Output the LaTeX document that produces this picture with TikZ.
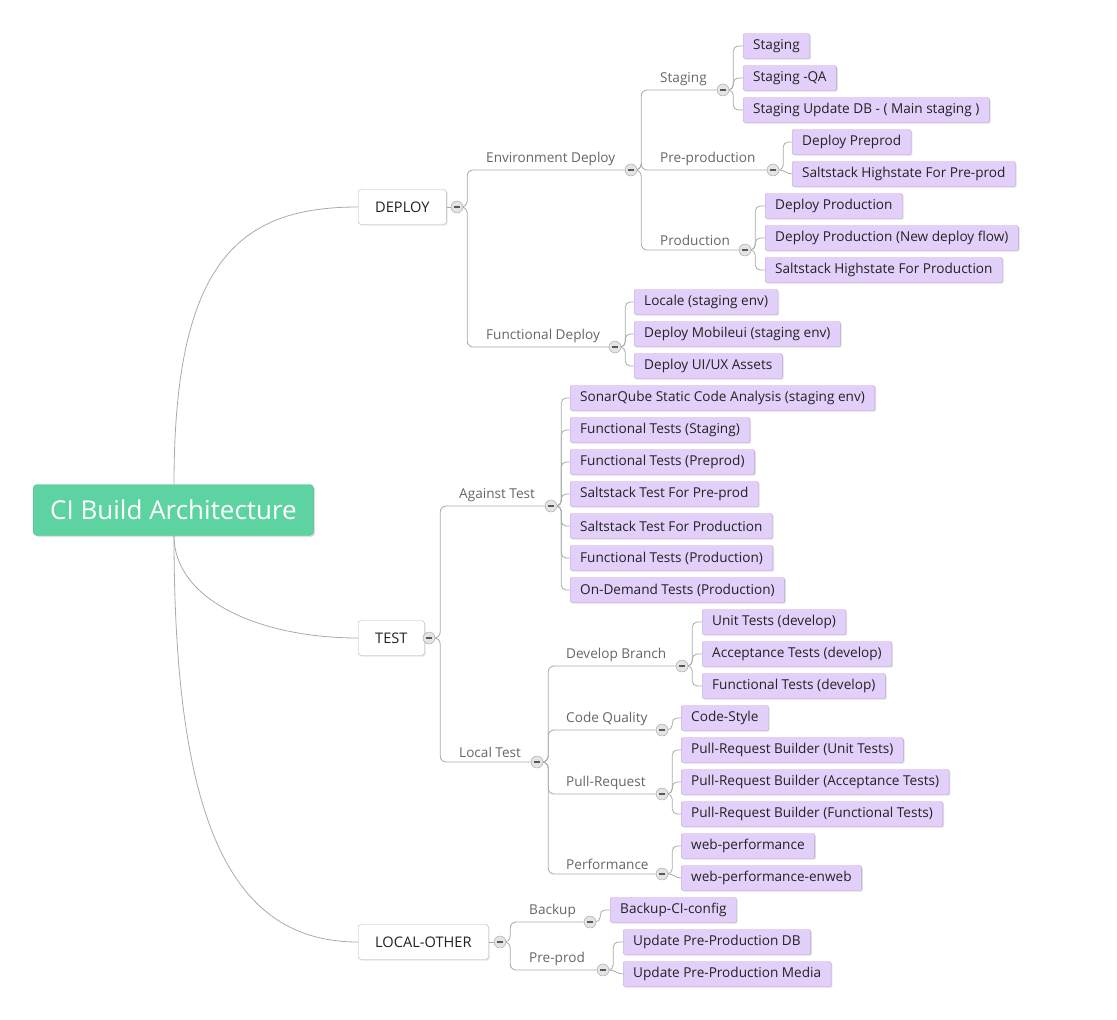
\documentclass[tikz,border=0pt]{standalone}
\usepackage{fontspec}
\setmainfont{Open Sans}
\usetikzlibrary{shadows,backgrounds,calc}
\definecolor{leaffill}{HTML}{E3D0FA}
\definecolor{leafdraw}{HTML}{B9A6D3}
\definecolor{rootfill}{HTML}{5DD3A2}
\definecolor{lineg}{HTML}{AAAAAA}
\definecolor{labelg}{HTML}{666666}
\definecolor{txt}{HTML}{222222}
\definecolor{mainborder}{HTML}{B5B5B5}
\definecolor{circfill}{HTML}{E4E4E4}
\definecolor{circdraw}{HTML}{A0A0A0}
\tikzset{
  conn/.style={draw=lineg, line width=0.8pt, rounded corners=6pt},
  rootconn/.style={draw=lineg, line width=0.8pt},
  leaf/.style={draw=leafdraw, fill=leaffill, rounded corners=2pt, minimum height=25pt,
    inner xsep=10pt, inner ysep=0pt, anchor=west, font=\fontsize{13.6}{16}\selectfont, text=txt,
    drop shadow={shadow xshift=1.2pt, shadow yshift=-1.2pt, opacity=0.25}},
  mainbox/.style={draw=mainborder, fill=white, rounded corners=3pt, minimum height=35pt,
    inner xsep=17pt, inner ysep=0pt, anchor=west, font=\fontsize{14.6}{17}\selectfont, text=txt,
    drop shadow={shadow xshift=1.2pt, shadow yshift=-1.2pt, opacity=0.2}},
  rootbox/.style={draw=rootfill!90!black, fill=rootfill, rounded corners=4pt, minimum height=51pt,
    inner xsep=17pt, inner ysep=0pt, anchor=west, font=\fontsize{26}{30}\selectfont, text=white,
    drop shadow={shadow xshift=1.5pt, shadow yshift=-1.5pt, opacity=0.25}},
  lbl/.style={anchor=south west, inner sep=0pt, font=\fontsize{13.6}{16}\selectfont, text=labelg},
  coll/.style={circle, draw=circdraw, fill=circfill, minimum size=12pt, inner sep=0pt,
    path picture={\draw[line width=1.4pt, color=black!65]
      ([xshift=-2.6pt]path picture bounding box.center) -- ([xshift=2.6pt]path picture bounding box.center);}},
}
\begin{document}
\begin{tikzpicture}[x=1pt,y=-1pt]
\useasboundingbox (0,0) rectangle (1117,1020);

% root and main nodes
\node[rootbox] (root) at (33,510) {CI Build Architecture};
\node[mainbox] (deploy) at (358,207) {DEPLOY};
\node[mainbox] (test) at (358,638) {TEST};
\node[mainbox] (other) at (358,942) {LOCAL-OTHER};

% collapse circles
\node[coll] (dC) at (457,207) {};
\node[coll] (tC) at (429,638) {};
\node[coll] (lC) at (500,942) {};
\node[coll] (envC) at (631,170) {};
\node[coll] (fdC) at (615,347) {};
\node[coll] (stgC) at (723,90) {};
\node[coll] (ppC) at (773,170) {};
\node[coll] (prodC) at (745,250) {};
\node[coll] (atC) at (551,506) {};
\node[coll] (ltC) at (537,762) {};
\node[coll] (dbC) at (682,666) {};
\node[coll] (cqC) at (662,730) {};
\node[coll] (prC) at (662,794) {};
\node[coll] (perfC) at (662,874) {};
\node[coll] (bkC) at (590,922) {};
\node[coll] (ppdC) at (603,970) {};

% labels
\node[lbl] (envL) at (486,166) {Environment Deploy};
\node[lbl] (fdL) at (486,343) {Functional Deploy};
\node[lbl] (stgL) at (660,86) {Staging};
\node[lbl] (ppL) at (660,166) {Pre-production};
\node[lbl] (prodL) at (660,246) {Production};
\node[lbl] (atL) at (459,502) {Against Test};
\node[lbl] (ltL) at (459,758) {Local Test};
\node[lbl] (dbL) at (566,662) {Develop Branch};
\node[lbl] (cqL) at (566,726) {Code Quality};
\node[lbl] (prL) at (566,790) {Pull-Request};
\node[lbl] (perfL) at (566,870) {Performance};
\node[lbl] (bkL) at (529,918) {Backup};
\node[lbl] (ppdL) at (529,966) {Pre-prod};

% leaves
\node[leaf] (s1) at (743,46) {Staging};
\node[leaf] (s2) at (743,78) {Staging -QA};
\node[leaf] (s3) at (743,110) {Staging Update DB - ( Main staging )};
\node[leaf] (p1) at (792,142) {Deploy Preprod};
\node[leaf] (p2) at (792,174) {Saltstack Highstate For Pre-prod};
\node[leaf] (pr1) at (765,206) {Deploy Production};
\node[leaf] (pr2) at (765,238) {Deploy Production (New deploy flow)};
\node[leaf] (pr3) at (765,270) {Saltstack Highstate For Production};
\node[leaf] (f1) at (634,302) {Locale (staging env)};
\node[leaf] (f2) at (634,334) {Deploy Mobileui (staging env)};
\node[leaf] (f3) at (634,366) {Deploy UI/UX Assets};
\node[leaf] (a1) at (570,398) {SonarQube Static Code Analysis (staging env)};
\node[leaf] (a2) at (570,430) {Functional Tests (Staging)};
\node[leaf] (a3) at (570,462) {Functional Tests (Preprod)};
\node[leaf] (a4) at (570,494) {Saltstack Test For Pre-prod};
\node[leaf] (a5) at (570,526) {Saltstack Test For Production};
\node[leaf] (a6) at (570,558) {Functional Tests (Production)};
\node[leaf] (a7) at (570,590) {On-Demand Tests (Production)};
\node[leaf] (d1) at (702,622) {Unit Tests (develop)};
\node[leaf] (d2) at (702,654) {Acceptance Tests (develop)};
\node[leaf] (d3) at (702,686) {Functional Tests (develop)};
\node[leaf] (c1) at (681,718) {Code-Style};
\node[leaf] (q1) at (681,750) {Pull-Request Builder (Unit Tests)};
\node[leaf] (q2) at (681,782) {Pull-Request Builder (Acceptance Tests)};
\node[leaf] (q3) at (681,814) {Pull-Request Builder (Functional Tests)};
\node[leaf] (w1) at (681,846) {web-performance};
\node[leaf] (w2) at (681,878) {web-performance-enweb};
\node[leaf] (b1) at (610,910) {Backup-CI-config};
\node[leaf] (u1) at (623,942) {Update Pre-Production DB};
\node[leaf] (u2) at (623,974) {Update Pre-Production Media};

\begin{scope}[on background layer]
% root connectors
\draw[rootconn] (root.north -| 174,0) .. controls (174,260) and (240,207) .. (deploy.west);
\draw[rootconn] (root.south -| 174,0) .. controls (174,600) and (260,638) .. (test.west);
\draw[rootconn] (root.south -| 174,0) .. controls (174,820) and (230,942) .. (other.west);
% main to circles
\draw[conn] (deploy.east) -- (dC.west);
\draw[conn] (test.east) -- (tC.west);
\draw[conn] (other.east) -- (lC.west);
% level 2
\draw[conn] (dC.east) -- ++(4,0) |- (envC.west);
\draw[conn] (dC.east) -- ++(4,0) |- (fdC.west);
\draw[conn] (tC.east) -- ++(5,0) |- (atC.west);
\draw[conn] (tC.east) -- ++(5,0) |- (ltC.west);
\draw[conn] (lC.east) -- ++(4,0) |- (bkC.west);
\draw[conn] (lC.east) -- ++(4,0) |- (ppdC.west);
% level 3
\draw[conn] (envC.east) -- ++(4,0) |- (stgC.west);
\draw[conn] (envC.east) -- ++(4,0) |- (ppC.west);
\draw[conn] (envC.east) -- ++(4,0) |- (prodC.west);
\draw[conn] (ltC.east) -- ++(5,0) |- (dbC.west);
\draw[conn] (ltC.east) -- ++(5,0) |- (cqC.west);
\draw[conn] (ltC.east) -- ++(5,0) |- (prC.west);
\draw[conn] (ltC.east) -- ++(5,0) |- (perfC.west);
% leaves
\begin{scope}[conn, rounded corners=5pt]
\foreach \c/\l in {stgC/s1,stgC/s2,stgC/s3,ppC/p1,prodC/pr1,prodC/pr2,prodC/pr3,
  fdC/f1,fdC/f2,fdC/f3,atC/a1,atC/a2,atC/a3,atC/a4,atC/a5,atC/a6,atC/a7,
  dbC/d1,dbC/d2,dbC/d3,cqC/c1,prC/q1,prC/q2,prC/q3,perfC/w1,bkC/b1,ppdC/u1}
  \draw (\c.east) -- ++(4,0) |- (\l.west);
\foreach \c/\l in {ppC/p2,perfC/w2,ppdC/u2}
  \draw (\c.east) to[out=0,in=180] (\l.west);
\end{scope}
\end{scope}
\end{tikzpicture}
\end{document}
